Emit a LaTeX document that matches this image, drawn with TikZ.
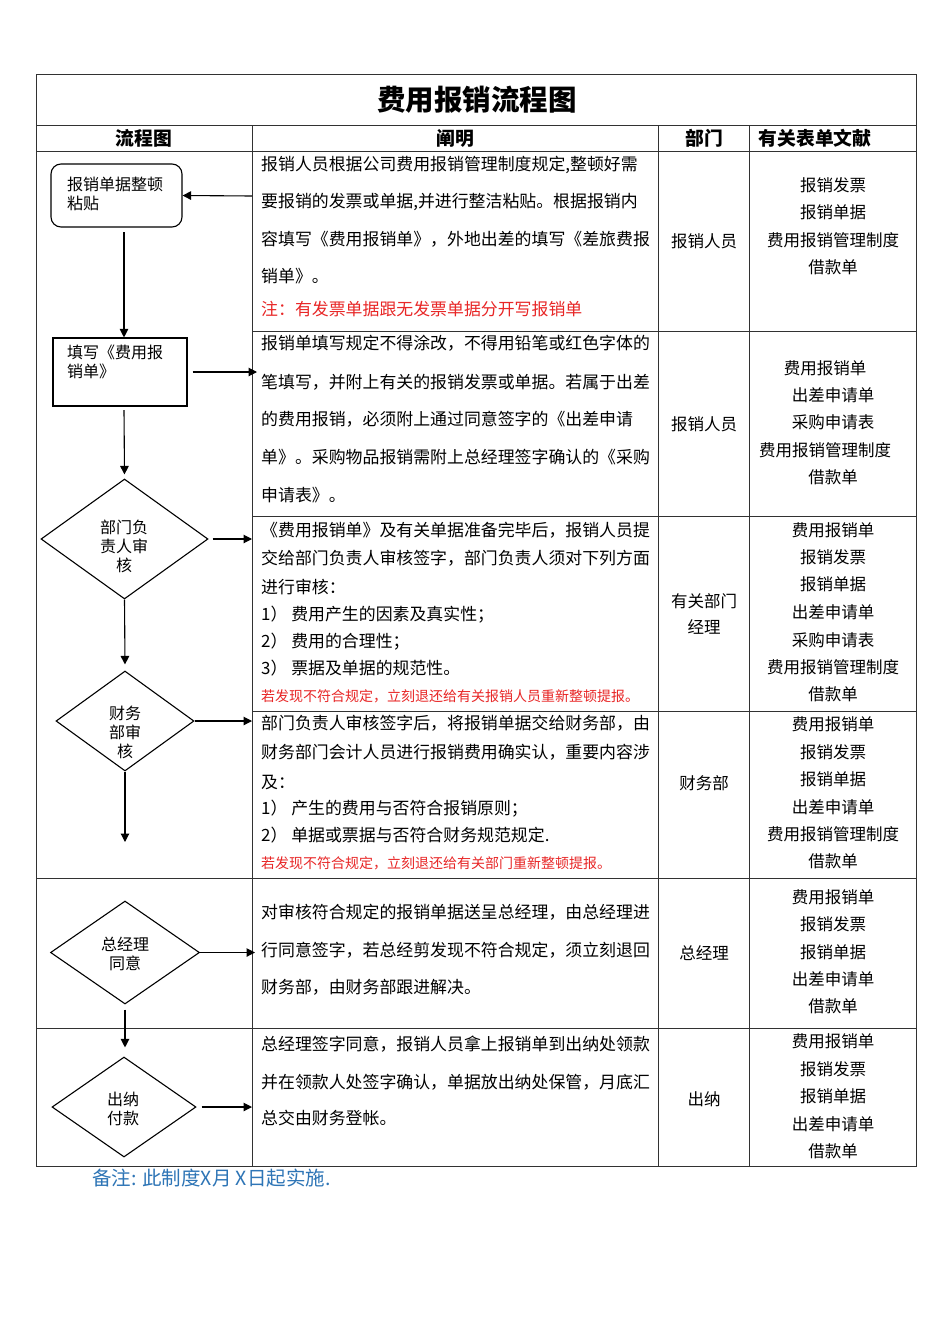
\documentclass[tikz,border=0pt]{standalone}
\usepackage{fontspec}
\setmainfont{Noto Sans CJK SC}
\usetikzlibrary{shapes.geometric,arrows.meta}
\XeTeXlinebreaklocale "zh"
\XeTeXlinebreakskip=0pt plus 2pt
\definecolor{redtxt}{RGB}{232,38,38}
\definecolor{bluetxt}{RGB}{46,117,182}
\definecolor{gridc}{RGB}{50,50,50}
\newcommand{\jline}[1]{\makebox[389pt][s]{#1}}
\begin{document}
\begin{tikzpicture}[x=1pt,y=-1pt,
  gridline/.style={draw=gridc,line width=1pt},
  dtx/.style={inner sep=0,anchor=west,text height=14.4pt,text depth=1.7pt,font=\fontsize{16.9}{19}\selectfont},
  redtx/.style={dtx,text=redtxt},
  smallred/.style={inner sep=0,anchor=west,text height=11.9pt,text depth=1.4pt,text=redtxt,font=\fontsize{14}{16}\selectfont},
  ctx/.style={inner sep=0,text height=14pt,text depth=1.65pt,font=\fontsize{16.5}{19}\selectfont},
  flowtx/.style={inner sep=0,font=\fontsize{16}{19}\selectfont},
  hdr/.style={inner sep=0,font=\fontsize{18.8}{22}\selectfont\bfseries},
  rbox/.style={draw,rounded corners=10pt,line width=1.1pt},
  sbox/.style={draw,line width=1.1pt},
  dia/.style={draw,diamond,inner sep=0,line width=1.1pt},
  arr/.style={-{Triangle[length=8.5pt,width=8.5pt]},line width=1.1pt}]
\useasboundingbox (0,0) rectangle (950,1344);
\fill[white] (0,0) rectangle (950,1344);

% ---------- table grid ----------
\draw[gridline] (36,74) rectangle (916,1166);
\draw[gridline] (36,125) -- (916,125);
\draw[gridline] (36,151) -- (916,151);
\draw[gridline] (252,331) -- (916,331);
\draw[gridline] (252,516) -- (916,516);
\draw[gridline] (252,711) -- (916,711);
\draw[gridline] (36,878) -- (916,878);
\draw[gridline] (36,1028) -- (916,1028);
\draw[gridline] (252,125) -- (252,1166);
\draw[gridline] (658,125) -- (658,1166);
\draw[gridline] (749,125) -- (749,1166);

% ---------- title and header ----------
\node[inner sep=0,font=\fontsize{28.5}{32}\selectfont\bfseries] (title) at (477,100) {费用报销流程图};
\node[hdr] (h1) at (144,138) {流程图};
\node[hdr] (h2) at (455,138) {阐明};
\node[hdr] (h3) at (704,138) {部门};
\node[hdr] (h4) at (815,138) {有关表单文献};

% ---------- flowchart ----------
\coordinate (div) at (252,0);
\node[rbox,minimum width=131pt,minimum height=63pt] (n1) at (116.5,195.5) {};
\node[flowtx,anchor=west,align=left] (n1t) at (67,194) {报销单据整顿\\粘贴};
\node[sbox,minimum width=134pt,minimum height=68pt] (n2) at (120,372) {};
\node[flowtx,anchor=west,align=left] (n2t) at (67,361.5) {填写《费用报\\销单》};
\node[dia,minimum width=167pt,minimum height=120pt] (d1) at (124.5,539) {};
\node[flowtx,align=center] (d1t) at (124,546) {部门负\\责人审\\核};
\node[dia,minimum width=138pt,minimum height=100pt] (d2) at (125,721) {};
\node[flowtx,align=center] (d2t) at (125,732) {财务\\部审\\核};
\node[dia,minimum width=149pt,minimum height=103pt] (d3) at (125,952.5) {};
\node[flowtx,align=center] (d3t) at (125,953.5) {总经理\\同意};
\node[dia,minimum width=144pt,minimum height=100pt] (d4) at (124,1107) {};
\node[flowtx,align=center] (d4t) at (123,1108.5) {出纳\\付款};

\coordinate (a1s) at (252,196);
\coordinate (a2s) at (124,232);
\coordinate (a3e) at (257,372);
\coordinate (a4s) at (124,410);
\coordinate (a8e) at (125,842);
\draw[arr] (a1s) -- (n1.east);
\draw[arr] (a2s) -- (n2.north -| a2s);
\draw[arr] ([xshift=5pt]n2.east) -- (a3e);
\draw[arr] (a4s) -- ([yshift=4pt]d1.north);
\draw[arr] ([xshift=4pt]d1.east) -- (d1.east -| div);
\draw[arr] (d1.south) -- ([yshift=6pt]d2.north);
\draw[arr] (d2.east) -- (d2.east -| div);
\draw[arr] (d2.south) -- (a8e);
\draw[arr] (d3.east) -- ([xshift=3pt]d3.east -| div);
\draw[arr] ([yshift=-5pt]d3.south) -- ([yshift=9pt]d4.north -| d3.south);
\draw[arr] ([xshift=5pt]d4.east) -- (d4.east -| div);

% ---------- description column ----------
\node[dtx] (r1a) at (261,164) {\jline{报销人员根据公司费用报销管理制度规定,整顿好需}};
\node[dtx] (r1b) at (261,201) {\jline{要报销的发票或单据,并进行整洁粘贴。根据报销内}};
\node[dtx] (r1c) at (261,239) {\jline{容填写《费用报销单》，外地出差的填写《差旅费报}};
\node[dtx] (r1d) at (261,276) {销单》。};
\node[redtx] (r1e) at (261,309) {注：有发票单据跟无发票单据分开写报销单};

\node[dtx] (r2a) at (261,343) {\jline{报销单填写规定不得涂改，不得用铅笔或红色字体的}};
\node[dtx] (r2b) at (261,382) {\jline{笔填写，并附上有关的报销发票或单据。若属于出差}};
\node[dtx] (r2c) at (261,419) {\jline{的费用报销，必须附上通过同意签字的《出差申请}};
\node[dtx] (r2d) at (261,457) {\jline{单》。采购物品报销需附上总经理签字确认的《采购}};
\node[dtx] (r2e) at (261,495) {申请表》。};

\node[dtx] (r3a) at (261,530) {\jline{《费用报销单》及有关单据准备完毕后，报销人员提}};
\node[dtx] (r3b) at (261,558) {\jline{交给部门负责人审核签字，部门负责人须对下列方面}};
\node[dtx] (r3c) at (261,587) {进行审核：};
\node[dtx] (r3d) at (261,614) {1） 费用产生的因素及真实性；};
\node[dtx] (r3e) at (261,641) {2） 费用的合理性；};
\node[dtx] (r3f) at (261,668) {3） 票据及单据的规范性。};
\node[smallred] (r3g) at (261,696) {若发现不符合规定，立刻退还给有关报销人员重新整顿提报。};

\node[dtx] (r4a) at (261,723) {\jline{部门负责人审核签字后，将报销单据交给财务部，由}};
\node[dtx] (r4b) at (261,752) {\jline{财务部门会计人员进行报销费用确实认，重要内容涉}};
\node[dtx] (r4c) at (261,782) {及：};
\node[dtx] (r4d) at (261,808) {1） 产生的费用与否符合报销原则；};
\node[dtx] (r4e) at (261,835) {2） 单据或票据与否符合财务规范规定.};
\node[smallred] (r4f) at (261,863) {若发现不符合规定，立刻退还给有关部门重新整顿提报。};

\node[dtx] (r5a) at (261,912) {\jline{对审核符合规定的报销单据送呈总经理，由总经理进}};
\node[dtx] (r5b) at (261,950) {\jline{行同意签字，若总经剪发现不符合规定，须立刻退回}};
\node[dtx] (r5c) at (261,987) {财务部，由财务部跟进解决。};

\node[dtx] (r6a) at (261,1044) {\jline{总经理签字同意，报销人员拿上报销单到出纳处领款}};
\node[dtx] (r6b) at (261,1082) {\jline{并在领款人处签字确认，单据放出纳处保管，月底汇}};
\node[dtx] (r6c) at (261,1118) {总交由财务登帐。};

% ---------- department column ----------
\node[ctx] (p1) at (704,241) {报销人员};
\node[ctx] (p2) at (704,424) {报销人员};
\node[ctx] (p3a) at (704,601) {有关部门};
\node[ctx] (p3b) at (704,627) {经理};
\node[ctx] (p4) at (704,783) {财务部};
\node[ctx] (p5) at (704,953) {总经理};
\node[ctx] (p6) at (704,1099) {出纳};

% ---------- forms column ----------
\node[ctx] (f1a) at (833,185) {报销发票};
\node[ctx] (f1b) at (833,212) {报销单据};
\node[ctx] (f1c) at (833,240) {费用报销管理制度};
\node[ctx] (f1d) at (833,267) {借款单};

\node[ctx] (f2a) at (825,368) {费用报销单};
\node[ctx] (f2b) at (833,395) {出差申请单};
\node[ctx] (f2c) at (833,422) {采购申请表};
\node[ctx] (f2d) at (825,450) {费用报销管理制度};
\node[ctx] (f2e) at (833,477) {借款单};

\node[ctx] (f3a) at (833,530) {费用报销单};
\node[ctx] (f3b) at (833,557) {报销发票};
\node[ctx] (f3c) at (833,584) {报销单据};
\node[ctx] (f3d) at (833,612) {出差申请单};
\node[ctx] (f3e) at (833,640) {采购申请表};
\node[ctx] (f3f) at (833,667) {费用报销管理制度};
\node[ctx] (f3g) at (833,694) {借款单};

\node[ctx] (f4a) at (833,724) {费用报销单};
\node[ctx] (f4b) at (833,752) {报销发票};
\node[ctx] (f4c) at (833,779) {报销单据};
\node[ctx] (f4d) at (833,807) {出差申请单};
\node[ctx] (f4e) at (833,834) {费用报销管理制度};
\node[ctx] (f4f) at (833,861) {借款单};

\node[ctx] (f5a) at (833,897) {费用报销单};
\node[ctx] (f5b) at (833,924) {报销发票};
\node[ctx] (f5c) at (833,952) {报销单据};
\node[ctx] (f5d) at (833,979) {出差申请单};
\node[ctx] (f5e) at (833,1006) {借款单};

\node[ctx] (f6a) at (833,1041) {费用报销单};
\node[ctx] (f6b) at (833,1069) {报销发票};
\node[ctx] (f6c) at (833,1096) {报销单据};
\node[ctx] (f6d) at (833,1124) {出差申请单};
\node[ctx] (f6e) at (833,1151) {借款单};

% ---------- footer ----------
\node[inner sep=0,anchor=west,text=bluetxt,font=\fontsize{19.5}{22}\selectfont] (foot) at (92,1178) {备注: 此制度X月 X日起实施.};
\end{tikzpicture}
\end{document}
